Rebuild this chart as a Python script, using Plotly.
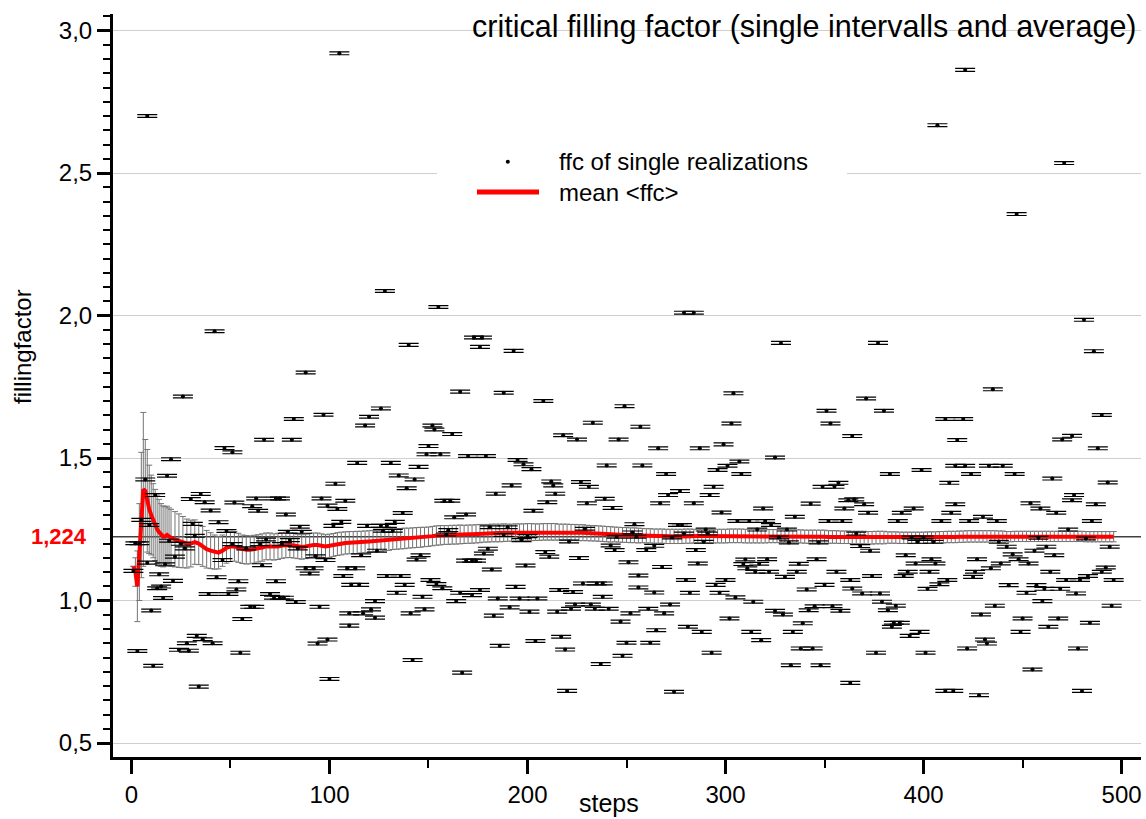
import plotly.graph_objects as go

# critical filling factor of the single realizations, by step
ffc_steps = [
    1, 2, 3, 4, 5, 7, 8, 8, 9, 10,
    11, 12, 13, 14, 15, 16, 17, 18, 19, 20,
    21, 22, 24, 25, 26, 27, 28, 29, 30, 31,
    32, 33, 34, 35, 36, 37, 39, 40, 41, 42,
    43, 44, 46, 47, 48, 49, 51, 51, 52, 53,
    54, 55, 56, 58, 60, 61, 62, 63, 64, 65,
    66, 67, 68, 70, 72, 73, 73, 75, 75, 76,
    77, 78, 79, 80, 81, 82, 83, 84, 85, 86,
    88, 88, 90, 92, 93, 94, 95, 96, 97, 98,
    99, 99, 100, 102, 103, 104, 105, 106, 107, 108,
    109, 110, 110, 111, 113, 114, 115, 116, 117, 118,
    119, 120, 121, 123, 123, 124, 126, 126, 127, 128,
    129, 129, 131, 132, 133, 134, 135, 136, 137, 138,
    139, 140, 141, 142, 143, 144, 145, 146, 147, 148,
    149, 150, 151, 152, 153, 154, 155, 156, 157, 158,
    159, 160, 161, 162, 163, 164, 166, 166, 167, 169,
    169, 170, 172, 172, 173, 174, 176, 176, 177, 178,
    179, 180, 181, 182, 183, 184, 185, 186, 188, 188,
    190, 191, 192, 193, 194, 195, 196, 197, 198, 199,
    200, 201, 202, 203, 204, 205, 208, 209, 210, 211,
    212, 213, 214, 215, 216, 217, 218, 219, 220, 221,
    222, 223, 224, 225, 226, 227, 228, 229, 230, 231,
    232, 233, 234, 235, 237, 238, 238, 239, 240, 241,
    242, 243, 244, 245, 246, 247, 248, 249, 250, 251,
    252, 253, 254, 255, 256, 256, 257, 258, 260, 261,
    262, 264, 264, 265, 266, 267, 268, 269, 270, 271,
    272, 273, 274, 276, 277, 278, 279, 279, 280, 281,
    282, 284, 284, 285, 286, 287, 288, 289, 290, 291,
    292, 293, 294, 295, 296, 297, 298, 299, 300, 301,
    302, 303, 304, 305, 306, 307, 308, 309, 310, 311,
    312, 313, 314, 315, 316, 317, 318, 319, 320, 321,
    322, 323, 325, 325, 327, 328, 329, 330, 331, 332,
    333, 334, 335, 336, 337, 338, 339, 341, 342, 343,
    344, 345, 346, 347, 348, 349, 350, 351, 352, 353,
    354, 355, 356, 357, 358, 359, 360, 362, 363, 363,
    364, 364, 365, 366, 368, 369, 370, 371, 372, 373,
    374, 376, 377, 378, 379, 380, 382, 383, 384, 385,
    386, 387, 388, 389, 390, 391, 392, 393, 394, 395,
    396, 397, 398, 399, 400, 401, 402, 403, 404, 405,
    406, 407, 408, 409, 411, 411, 412, 413, 414, 415,
    416, 416, 417, 420, 421, 421, 422, 423,
    424, 425, 426, 427, 428, 429, 430, 431, 432, 433,
    434, 435, 436, 437, 438, 439, 440, 442, 443, 445,
    446, 447, 448, 449, 450, 452, 453, 454, 455, 456,
    457, 458, 459, 460, 461, 462, 463, 464, 465, 466,
    467, 468, 469, 470, 471, 472, 473, 475, 475, 476,
    477, 478, 479, 480, 481, 482, 483, 484, 485, 486,
    487, 488, 490, 490, 492, 493, 494, 495, 496,
]
ffc_values = [
    1.104, 1.201, 0.823, 1.201, 1.283, 1.425, 2.700, 1.133, 1.265, 0.965,
    0.771, 1.370, 1.043, 1.092, 1.049, 1.009, 1.127, 1.438, 1.210, 1.496,
    1.069, 1.154, 0.827, 1.199, 1.716, 1.183, 0.850, 0.824, 1.356, 1.269,
    1.227, 0.876, 0.698, 1.374, 0.864, 1.345, 1.023, 1.316, 0.850, 1.945,
    1.082, 1.275, 1.142, 1.535, 1.244, 1.023, 1.198, 1.520, 1.344, 1.039,
    1.068, 0.817, 0.935, 1.183, 0.978, 1.331, 0.978, 1.358, 1.315, 1.198,
    1.124, 1.564, 1.214, 1.023, 1.010, 1.068, 1.358, 1.010, 1.358, 1.198,
    1.010, 1.302, 1.241, 1.212, 1.564, 1.637, 0.995, 1.183, 1.259, 1.241,
    1.113, 1.800, 1.095, 1.113, 1.155, 0.849, 0.978, 1.358, 1.652, 1.142,
    1.333, 0.863, 0.725, 1.262, 1.410, 1.321, 2.920, 1.276, 1.086, 1.350,
    1.113, 0.912, 0.955, 1.055, 1.113, 1.483, 1.055, 1.159, 0.955, 1.614,
    1.262, 1.645, 0.969, 0.998, 0.940, 1.175, 1.674, 1.262, 1.245, 2.086,
    1.262, 1.086, 1.483, 1.245, 1.276, 1.027, 1.439, 1.086, 1.307, 1.055,
    1.394, 1.897, 0.955, 0.791, 1.425, 1.144, 1.469, 1.159, 1.013, 0.969,
    1.513, 1.542, 1.072, 1.614, 1.600, 1.058, 2.030, 1.513, 1.043, 1.350,
    1.232, 1.247, 1.350, 1.584, 1.292, 0.998, 1.027, 1.733, 0.747, 1.140,
    1.302, 1.507, 1.140, 1.019, 1.923, 1.140, 1.890, 1.037, 1.923, 1.165,
    1.507, 1.182, 1.257, 1.109, 0.947, 1.375, 1.007, 0.841, 1.230, 1.729,
    1.257, 0.976, 1.404, 1.876, 1.048, 1.493, 1.007, 1.212, 1.478, 1.123,
    1.226, 0.961, 1.461, 1.315, 0.858, 1.007, 1.700, 1.170, 1.345, 1.154,
    1.418, 1.404, 1.375, 0.961, 1.037, 0.873, 1.580, 0.828, 0.683, 1.207,
    0.971, 1.030, 0.986, 1.565, 1.149, 1.416, 1.060, 1.252, 1.341, 1.399,
    0.986, 1.624, 0.971, 1.060, 0.777, 1.060, 1.013, 1.357, 1.474, 0.971,
    1.193, 1.325, 1.177, 1.224, 1.565, 0.926, 0.806, 1.682, 0.852, 1.134,
    0.955, 1.239, 1.268, 1.224, 1.088, 1.046, 1.610, 1.474, 1.177, 0.971,
    0.852, 1.192, 1.028, 0.896, 1.534, 1.341, 1.118, 0.955, 1.444, 1.370,
    0.986, 1.221, 0.680, 1.265, 1.384, 1.265, 1.235, 2.010, 1.072, 0.908,
    1.027, 1.341, 2.010, 1.177, 1.130, 1.534, 0.890, 1.206, 1.249, 1.235,
    1.370, 0.817, 1.399, 1.055, 1.458, 1.027, 1.309, 1.548, 1.072, 1.473,
    0.937, 1.621, 1.727, 1.011, 1.279, 1.488, 1.444, 1.128, 1.144, 1.113,
    1.279, 0.890, 0.996, 1.101, 1.249, 1.129, 0.861, 1.323, 1.279, 1.145,
    1.101, 1.265, 1.502, 0.964, 1.221, 1.904, 0.951, 1.083, 1.249, 1.204,
    0.773, 0.890, 1.294, 1.101, 1.129, 0.832, 0.920, 1.039, 0.966, 1.340,
    0.832, 0.980, 1.145, 1.204, 0.773, 1.399, 1.055, 1.666, 1.279, 1.621,
    0.980, 1.399, 1.101, 1.413, 0.964, 1.279, 1.323, 1.352, 1.072, 0.711,
    1.042, 1.577, 1.355, 1.235, 1.191, 1.025, 1.338, 1.709, 1.308, 1.175,
    1.086, 0.817, 1.904, 1.025, 0.996, 1.666, 0.966, 1.444, 0.908, 0.922,
    0.982, 1.279, 0.922, 1.308, 1.086, 1.159, 1.101, 0.876, 1.221, 1.323,
    1.130, 1.206, 0.890, 1.458, 1.221, 0.817, 1.041, 1.101, 1.145, 1.206,
    1.130, 2.668, 1.057, 1.279, 0.683, 1.637, 1.072, 1.413, 1.308, 0.683,
    1.338, 1.473, 1.563, 1.637, 1.473, 2.862, 0.832, 1.279,
    1.444, 1.083, 1.101, 1.145, 0.668, 0.951, 1.294, 0.863, 0.849, 1.473,
    1.113, 1.741, 0.982, 1.279, 1.206, 1.130, 1.473, 1.189, 1.054, 1.162,
    1.444, 2.356, 1.145, 0.890, 0.937, 1.027, 1.130, 1.341, 0.758, 1.175,
    1.054, 1.220, 1.323, 0.998, 1.041, 1.189, 0.908, 1.101, 1.428, 1.159,
    1.308, 0.937, 1.041, 1.565, 2.535, 1.072, 1.249, 1.578, 1.352, 1.370,
    1.025, 0.832, 1.072, 0.683, 1.985, 1.218, 1.086, 0.922, 1.279, 1.875,
    1.338, 1.534, 1.651, 1.101, 1.116, 1.414, 1.189, 0.982, 1.072,
]
assert len(ffc_steps) == len(ffc_values)
FFC_ERR = 0.005

# running mean <ffc> and its error
mean_steps = list(range(1, 21)) + list(range(22, 497, 2))
mean_values = [
    1.12, 1.10, 1.05, 1.17, 1.30, 1.39, 1.385, 1.35, 1.32, 1.30,
    1.28, 1.265, 1.25, 1.24, 1.23, 1.225, 1.225, 1.23, 1.225, 1.22,
    1.215, 1.21, 1.205, 1.20, 1.20, 1.205, 1.20, 1.19, 1.18, 1.175,
    1.17, 1.168, 1.175, 1.185, 1.19, 1.19, 1.185, 1.18, 1.178, 1.178,
    1.18, 1.183, 1.186, 1.19, 1.19, 1.188, 1.19, 1.193, 1.195, 1.195,
    1.193, 1.19, 1.188, 1.19, 1.193, 1.195, 1.195, 1.193, 1.19, 1.192,
    1.195, 1.198, 1.20, 1.202, 1.203, 1.203, 1.204, 1.205, 1.206, 1.207,
    1.208, 1.209, 1.21, 1.212, 1.213, 1.215, 1.216, 1.217, 1.218, 1.219,
    1.22, 1.221, 1.222, 1.223, 1.224, 1.226, 1.228, 1.229, 1.23, 1.23,
    1.231, 1.231, 1.232, 1.232, 1.233, 1.233, 1.234, 1.235, 1.236, 1.236,
    1.237, 1.237, 1.237, 1.238, 1.238, 1.238, 1.239, 1.239, 1.239, 1.24,
    1.24, 1.24, 1.24, 1.241, 1.241, 1.241, 1.241, 1.24, 1.24, 1.24,
    1.239, 1.239, 1.238, 1.238, 1.237, 1.236, 1.236, 1.235, 1.234, 1.233,
    1.232, 1.232, 1.231, 1.23, 1.23, 1.229, 1.229, 1.228, 1.228, 1.227,
    1.227, 1.226, 1.226, 1.226, 1.225, 1.225, 1.225, 1.225, 1.225, 1.226,
    1.226, 1.226, 1.226, 1.226, 1.226, 1.226, 1.226, 1.226, 1.226, 1.226,
    1.227, 1.227, 1.227, 1.227, 1.226, 1.226, 1.226, 1.226, 1.226, 1.226,
    1.226, 1.226, 1.226, 1.226, 1.226, 1.225, 1.225, 1.225, 1.225, 1.224,
    1.224, 1.224, 1.224, 1.224, 1.224, 1.223, 1.223, 1.223, 1.222, 1.222,
    1.222, 1.221, 1.221, 1.221, 1.221, 1.22, 1.22, 1.221, 1.221, 1.221,
    1.221, 1.221, 1.221, 1.22, 1.22, 1.22, 1.22, 1.22, 1.22, 1.22,
    1.221, 1.221, 1.221, 1.222, 1.222, 1.223, 1.223, 1.223, 1.224, 1.224,
    1.225, 1.225, 1.225, 1.225, 1.225, 1.225, 1.225, 1.225, 1.224, 1.224,
    1.224, 1.224, 1.225, 1.225, 1.225, 1.225, 1.225, 1.225, 1.225, 1.225,
    1.225, 1.225, 1.225, 1.225, 1.225, 1.225, 1.225, 1.225, 1.225, 1.225,
    1.224, 1.224, 1.224, 1.224, 1.224, 1.224, 1.224, 1.224,
]
mean_errors = [
    0.0, 0.05, 0.124, 0.17, 0.22, 0.27, 0.18, 0.18, 0.155, 0.14,
    0.13, 0.125, 0.12, 0.115, 0.11, 0.107, 0.104, 0.101, 0.1, 0.1,
    0.097, 0.094, 0.09, 0.086, 0.082, 0.078, 0.074, 0.07, 0.066, 0.063,
    0.06, 0.057, 0.055, 0.054, 0.053, 0.052, 0.051, 0.05, 0.05, 0.049,
    0.049, 0.048, 0.048, 0.047, 0.047, 0.046, 0.046, 0.045, 0.045, 0.044,
    0.044, 0.043, 0.043, 0.043, 0.042, 0.042, 0.042, 0.041, 0.041, 0.041,
    0.04, 0.04, 0.04, 0.039, 0.039, 0.039, 0.039, 0.038, 0.038, 0.038,
    0.038, 0.037, 0.037, 0.037, 0.037, 0.036, 0.036, 0.036, 0.036, 0.035,
    0.035, 0.035, 0.035, 0.034, 0.034, 0.034, 0.034, 0.034, 0.033, 0.033,
    0.033, 0.033, 0.033, 0.032, 0.032, 0.032, 0.032, 0.032, 0.031, 0.031,
    0.031, 0.031, 0.031, 0.031, 0.03, 0.03, 0.03, 0.03, 0.03, 0.03,
    0.03, 0.029, 0.029, 0.029, 0.029, 0.029, 0.029, 0.028, 0.028, 0.028,
    0.028, 0.028, 0.028, 0.028, 0.027, 0.027, 0.027, 0.027, 0.027, 0.027,
    0.027, 0.026, 0.026, 0.026, 0.026, 0.026, 0.026, 0.026, 0.025, 0.025,
    0.025, 0.025, 0.025, 0.025, 0.025, 0.025, 0.025, 0.025, 0.025, 0.025,
    0.025, 0.024, 0.024, 0.024, 0.024, 0.024, 0.024, 0.024, 0.024, 0.024,
    0.024, 0.024, 0.024, 0.024, 0.024, 0.024, 0.024, 0.024, 0.024, 0.024,
    0.023, 0.023, 0.023, 0.023, 0.023, 0.023, 0.023, 0.023, 0.023, 0.023,
    0.023, 0.023, 0.023, 0.023, 0.023, 0.022, 0.022, 0.022, 0.022, 0.022,
    0.022, 0.022, 0.022, 0.022, 0.022, 0.022, 0.022, 0.022, 0.022, 0.022,
    0.02, 0.02, 0.02, 0.02, 0.02, 0.02, 0.02, 0.02, 0.02, 0.02,
    0.02, 0.02, 0.02, 0.02, 0.02, 0.02, 0.02, 0.02, 0.02, 0.02,
    0.02, 0.02, 0.02, 0.02, 0.02, 0.02, 0.02, 0.02, 0.02, 0.02,
    0.018, 0.018, 0.018, 0.018, 0.018, 0.018, 0.018, 0.018, 0.018, 0.018,
    0.018, 0.018, 0.018, 0.018, 0.018, 0.018, 0.018, 0.018, 0.018, 0.018,
    0.018, 0.018, 0.018, 0.018, 0.018, 0.018, 0.018, 0.018,
]
assert len(mean_steps) == len(mean_values) == len(mean_errors)

MEAN_FINAL = 1.224
FONT = "Liberation Sans, Arial, sans-serif"

fig = go.Figure()

# running mean with its error bars (bars are drawn beneath the line)
fig.add_trace(go.Scatter(
    x=mean_steps, y=mean_values, mode="lines",
    line=dict(color="#ff0000", width=4),
    error_y=dict(type="data", array=mean_errors, color="#747474",
                 thickness=1, width=3),
    showlegend=False, hoverinfo="skip",
))

# single realizations
fig.add_trace(go.Scatter(
    x=ffc_steps, y=ffc_values, mode="markers",
    marker=dict(color="black", size=4),
    error_y=dict(type="constant", value=FFC_ERR, color="black",
                 thickness=1.2, width=10),
    showlegend=False,
))

# plot area in pixels: x 113..1141, y 14..757
L, R, T, B = 113, 5, 14, 62
PW, PH = 1146 - L - R, 819 - T - B


def px(x):
    return (x - L) / PW


def py(y):
    return (819 - B - y) / PH


shapes = [
    # converged mean as a reference line
    dict(type="line", xref="paper", yref="y", x0=0, x1=1,
         y0=MEAN_FINAL, y1=MEAN_FINAL,
         line=dict(color="#404040", width=1.5), layer="below"),
    # legend box
    dict(type="rect", xref="paper", yref="paper",
         x0=px(437), x1=px(847), y0=py(212), y1=py(140),
         fillcolor="white", line=dict(width=0), layer="above"),
    dict(type="circle", xref="paper", yref="paper",
         x0=px(505.8), x1=px(509.8), y0=py(163.7), y1=py(159.7),
         fillcolor="black", line=dict(width=0), layer="above"),
    dict(type="line", xref="paper", yref="paper",
         x0=px(477), x1=px(539), y0=py(192), y1=py(192),
         line=dict(color="#ff0000", width=5), layer="above"),
]

annotations = [
    dict(text="ffc of single realizations", xref="paper", yref="paper",
         x=px(557), y=py(161), xanchor="left", yanchor="middle",
         showarrow=False, font=dict(size=24, color="black", family=FONT)),
    dict(text="mean &lt;ffc&gt;", xref="paper", yref="paper",
         x=px(557), y=py(192), xanchor="left", yanchor="middle",
         showarrow=False, font=dict(size=24, color="black", family=FONT)),
    dict(text="critical filling factor (single intervalls and average)",
         xref="paper", yref="paper", x=px(1139), y=py(26),
         xanchor="right", yanchor="middle", showarrow=False,
         font=dict(size=30.5, color="black", family=FONT)),
    dict(text="steps", xref="paper", yref="paper", x=px(609), y=py(803),
         xanchor="center", yanchor="middle", showarrow=False,
         font=dict(size=25, color="black", family=FONT)),
    dict(text="fillingfactor", xref="paper", yref="paper", x=px(22),
         y=py(347), xanchor="center", yanchor="middle", textangle=-90,
         showarrow=False, font=dict(size=24, color="black", family=FONT)),
    dict(text="<b>" + f"{MEAN_FINAL:.3f}".replace(".", ",") + "</b>",
         xref="paper", yref="y", x=px(89), y=MEAN_FINAL,
         xanchor="right", yanchor="middle", showarrow=False,
         font=dict(size=22, color="#ff0000", family=FONT)),
]

fig.update_layout(
    width=1146, height=819,
    margin=dict(l=L, r=R, t=T, b=B, pad=0),
    paper_bgcolor="white", plot_bgcolor="white",
    separators=", ",
    font=dict(family=FONT, size=24, color="black"),
    shapes=shapes, annotations=annotations,
    showlegend=False,
    xaxis=dict(
        range=[-9.3, 509.8], tick0=0, dtick=100,
        ticks="outside", ticklen=14, tickwidth=2.5, tickcolor="black",
        showline=True, linewidth=3, linecolor="black",
        showgrid=False, zeroline=False,
        tickfont=dict(size=24),
        minor=dict(dtick=50, ticks="outside", ticklen=8, tickwidth=2,
                   tickcolor="black", showgrid=False),
    ),
    yaxis=dict(
        range=[0.451, 3.058], tick0=0.5, dtick=0.5, tickformat=".1f",
        ticks="outside", ticklen=13, tickwidth=2.5, tickcolor="black",
        showline=True, linewidth=3, linecolor="black",
        showgrid=True, gridcolor="#cfcfcf", gridwidth=1,
        zeroline=False, tickfont=dict(size=24),
        minor=dict(dtick=0.05, tick0=0.5, ticks="outside", ticklen=7,
                   tickwidth=2, tickcolor="black", showgrid=False),
    ),
)

fig.write_html("out.html")
